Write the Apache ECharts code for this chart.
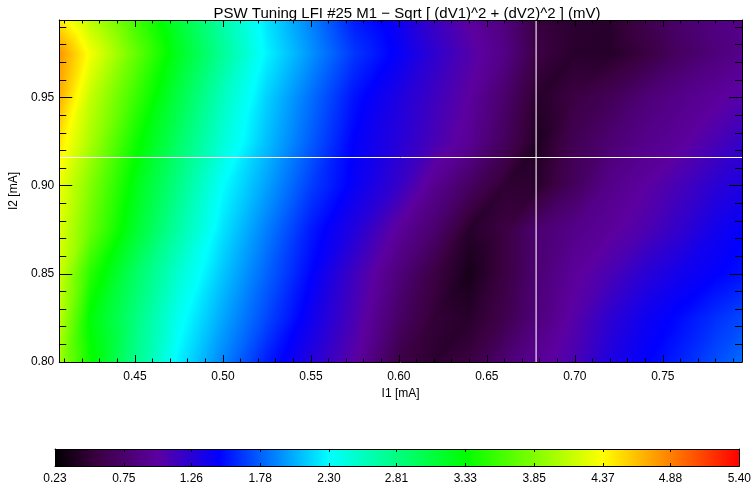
<!DOCTYPE html>
<html>
<head>
<meta charset="utf-8">
<script src="https://cdn.jsdelivr.net/npm/echarts@6/dist/echarts.min.js"></script>
<style>
  html, body { margin: 0; padding: 0; background: #ffffff; }
  #chart { width: 754px; height: 488px; }
</style>
</head>
<body>
<div id="chart"></div>
<script>
// Bias currents of the measurement grid (mA)
const I1_NODES = [0.407, 0.425, 0.45, 0.475, 0.50, 0.525, 0.55, 0.575, 0.60, 0.62, 0.64, 0.66, 0.68, 0.70, 0.72, 0.74, 0.76, 0.78, 0.795];
const I2_NODES = [0.800, 0.825, 0.850, 0.875, 0.900, 0.925, 0.950, 0.975, 0.994];

// Sqrt[(dV1)^2 + (dV2)^2] in mV, one row per I2 value, columns follow I1_NODES
const DV_I2_0800 = [3.98, 3.36, 2.78, 2.25, 1.90, 1.56, 1.30, 1.02, 0.58, 0.46, 0.55, 0.78, 0.96, 1.10, 1.32, 1.46, 1.58, 1.72, 1.82];
const DV_I2_0825 = [4.10, 3.30, 2.83, 2.35, 2.01, 1.70, 1.40, 1.10, 0.72, 0.50, 0.44, 0.60, 0.84, 1.04, 1.24, 1.40, 1.50, 1.62, 1.70];
const DV_I2_0850 = [4.17, 3.48, 2.94, 2.48, 2.11, 1.79, 1.48, 1.15, 0.82, 0.56, 0.36, 0.55, 0.80, 0.98, 1.10, 1.26, 1.38, 1.46, 1.52];
const DV_I2_0875 = [4.24, 3.75, 3.16, 2.66, 2.21, 1.88, 1.55, 1.30, 0.98, 0.76, 0.44, 0.55, 0.78, 0.90, 0.98, 1.08, 1.22, 1.38, 1.45];
const DV_I2_0900 = [4.30, 3.85, 3.26, 2.78, 2.30, 1.99, 1.67, 1.43, 1.20, 0.93, 0.70, 0.48, 0.46, 0.68, 0.90, 1.00, 1.12, 1.26, 1.32];
const DV_I2_0925 = [4.48, 4.01, 3.40, 2.92, 2.46, 2.09, 1.77, 1.46, 1.28, 1.11, 0.95, 0.68, 0.40, 0.64, 0.78, 0.90, 0.98, 1.10, 1.20];
const DV_I2_0950 = [4.69, 4.12, 3.57, 3.05, 2.56, 2.15, 1.83, 1.52, 1.32, 1.16, 1.00, 0.75, 0.44, 0.56, 0.65, 0.80, 0.90, 0.98, 1.05];
const DV_I2_0975 = [4.80, 4.32, 3.75, 3.20, 2.72, 2.26, 1.95, 1.64, 1.44, 1.24, 1.06, 0.88, 0.55, 0.45, 0.43, 0.54, 0.70, 0.82, 0.90];
const DV_I2_0994 = [4.45, 4.08, 3.60, 3.12, 2.65, 2.21, 1.89, 1.56, 1.40, 1.17, 1.00, 0.84, 0.52, 0.46, 0.45, 0.60, 0.76, 0.86, 0.90];
const DV_ROWS = [DV_I2_0800, DV_I2_0825, DV_I2_0850, DV_I2_0875, DV_I2_0900, DV_I2_0925, DV_I2_0950, DV_I2_0975, DV_I2_0994];

// Selected working point
const CROSS_I1 = 0.678;
const CROSS_I2 = 0.916;

// Axis ranges and tick labels
const I1_RANGE = [0.407, 0.795];
const I2_RANGE = [0.800, 0.994];
const I1_MAJOR = [0.45, 0.50, 0.55, 0.60, 0.65, 0.70, 0.75];
const I2_MAJOR = [0.80, 0.85, 0.90, 0.95];
const DV_RANGE = [0.23, 5.40];
const DV_TICKS = [0.23, 0.75, 1.26, 1.78, 2.30, 2.81, 3.33, 3.85, 4.37, 4.88, 5.40];

function minorTicks(lo, hi, step, majors) {
  const out = [];
  for (let k = Math.ceil(lo / step - 1e-9); k * step <= hi + 1e-9; k++) {
    const v = +(k * step).toFixed(4);
    if (!majors.some(m => Math.abs(m - v) < 1e-6)) out.push(v);
  }
  return out;
}
const I1_MINOR = minorTicks(I1_RANGE[0], I1_RANGE[1], 0.01, I1_MAJOR);
const I2_MINOR = minorTicks(I2_RANGE[0], I2_RANGE[1], 0.01, I2_MAJOR);

// Rainbow colour table: [fraction of the value range, rgb]
const CTABLE = [
  [0.00, [0, 0, 0]],
  [0.06, [58, 0, 64]],
  [0.15, [92, 0, 160]],
  [0.24, [0, 0, 255]],
  [0.40, [0, 255, 255]],
  [0.60, [0, 255, 0]],
  [0.80, [255, 255, 0]],
  [1.00, [255, 0, 0]]
];
const VMIN = DV_RANGE[0], VMAX = DV_RANGE[1];

function colorAt(v) {
  let t = (v - VMIN) / (VMAX - VMIN);
  t = Math.max(0, Math.min(1, t));
  for (let i = 1; i < CTABLE.length; i++) {
    const [t1, c1] = CTABLE[i];
    const [t0, c0] = CTABLE[i - 1];
    if (t <= t1) {
      const f = t1 === t0 ? 0 : (t - t0) / (t1 - t0);
      const c = c0.map((x, k) => Math.round(x + (c1[k] - x) * f));
      return 'rgb(' + c.join(',') + ')';
    }
  }
  return 'rgb(255,0,0)';
}

// Colour stops for a linear ramp between two values (exact at the table breakpoints)
function rampStops(v0, v1) {
  const stops = [{ offset: 0, color: colorAt(v0) }];
  CTABLE.forEach(([t]) => {
    const bv = VMIN + t * (VMAX - VMIN);
    if (bv > v0 && bv < v1) stops.push({ offset: (bv - v0) / (v1 - v0), color: colorAt(bv) });
  });
  stops.push({ offset: 1, color: colorAt(v1) });
  return stops;
}

const GROW = 1.2; // px each triangle edge is pushed outward, so neighbours overlap

// Gouraud-style fill of one triangle: the value is affine over it, so a linear
// gradient along the value gradient gives the interpolated colours. The ramp is
// extended beyond the corner values to cover the overlap strip.
function triangleFill(p, v) {
  const dx1 = p[1][0] - p[0][0], dy1 = p[1][1] - p[0][1];
  const dx2 = p[2][0] - p[0][0], dy2 = p[2][1] - p[0][1];
  const dv1 = v[1] - v[0], dv2 = v[2] - v[0];
  const det = dx1 * dy2 - dx2 * dy1;
  const vmin = Math.min(v[0], v[1], v[2]);
  const vmax = Math.max(v[0], v[1], v[2]);
  if (Math.abs(det) < 1e-9 || vmax - vmin < 1e-6) return colorAt((vmin + vmax) / 2);
  const ga = (dv1 * dy2 - dv2 * dy1) / det;
  const gb = (dx1 * dv2 - dx2 * dv1) / det;
  const g2 = ga * ga + gb * gb;
  const m = Math.sqrt(g2) * (GROW * 3 + 1);
  const lo = vmin - m, hi = vmax + m;
  const p0 = p[v.indexOf(vmin)];
  const s0 = -m / g2, s1 = (vmax - vmin + m) / g2;
  return new echarts.graphic.LinearGradient(
    p0[0] + ga * s0, p0[1] + gb * s0, p0[0] + ga * s1, p0[1] + gb * s1, rampStops(lo, hi), true);
}

// Offset every edge of a triangle outward by e pixels (mitred corners)
function grow(p, e) {
  const cx = (p[0][0] + p[1][0] + p[2][0]) / 3;
  const cy = (p[0][1] + p[1][1] + p[2][1]) / 3;
  const lines = [0, 1, 2].map(i => {
    const a = p[i], b = p[(i + 1) % 3];
    let nx = b[1] - a[1], ny = a[0] - b[0];
    const len = Math.sqrt(nx * nx + ny * ny) || 1;
    nx /= len; ny /= len;
    if ((a[0] - cx) * nx + (a[1] - cy) * ny < 0) { nx = -nx; ny = -ny; }
    return { x: a[0] + nx * e, y: a[1] + ny * e, dx: b[0] - a[0], dy: b[1] - a[1] };
  });
  return [0, 1, 2].map(i => {
    const L1 = lines[(i + 2) % 3], L2 = lines[i];
    const den = L1.dx * L2.dy - L1.dy * L2.dx;
    if (Math.abs(den) < 1e-9) return p[i];
    const t = ((L2.x - L1.x) * L2.dy - (L2.y - L1.y) * L2.dx) / den;
    return [L1.x + L1.dx * t, L1.y + L1.dy * t];
  });
}

// Split every grid cell into two triangles
const triangles = [];
for (let j = 0; j < I2_NODES.length - 1; j++) {
  for (let i = 0; i < I1_NODES.length - 1; i++) {
    const x0 = I1_NODES[i], x1 = I1_NODES[i + 1];
    const y0 = I2_NODES[j], y1 = I2_NODES[j + 1];
    const a = DV_ROWS[j][i], b = DV_ROWS[j][i + 1];
    const c = DV_ROWS[j + 1][i], d = DV_ROWS[j + 1][i + 1];
    triangles.push([x0, y0, x1, y0, x1, y1, a, b, d]);
    triangles.push([x0, y0, x1, y1, x0, y1, a, d, c]);
  }
}

const FONT = "'Liberation Sans', 'DejaVu Sans', sans-serif";
const BLACK = '#000000';

function frameAxis(extra) {
  return Object.assign({
    type: 'value',
    z: 10,
    axisLine: { show: true, onZero: false, lineStyle: { color: BLACK, width: 1 } },
    splitLine: { show: false },
    axisLabel: { show: false },
    axisTick: { show: true, inside: true, lineStyle: { color: BLACK, width: 1 } }
  }, extra);
}

function tickSet(len, values) {
  return { show: true, inside: true, length: len, customValues: values, lineStyle: { color: BLACK, width: 1 } };
}

const chart = echarts.init(document.getElementById('chart'), null, { renderer: 'canvas' });

chart.setOption({
  animation: false,
  backgroundColor: '#ffffff',
  title: {
    text: 'PSW Tuning LFI #25 M1 \u2212 Sqrt [ (dV1)^2 + (dV2)^2 ] (mV)',
    left: 402, top: 1, textAlign: 'center',
    textStyle: { fontFamily: FONT, fontSize: 15, fontWeight: 'normal', color: BLACK }
  },
  grid: [
    { left: 56, top: 20, width: 686, height: 342 },
    { left: 55, top: 449, width: 688, height: 17 }
  ],
  xAxis: [
    frameAxis({
      gridIndex: 0, position: 'bottom', min: I1_RANGE[0], max: I1_RANGE[1],
      name: 'I1 [mA]', nameLocation: 'middle', nameGap: 23,
      nameTextStyle: { fontFamily: FONT, fontSize: 12, color: BLACK },
      axisTick: tickSet(7, I1_MAJOR),
      axisLabel: { show: true, customValues: I1_MAJOR, margin: 9, fontFamily: FONT, fontSize: 12, color: BLACK,
        formatter: v => v.toFixed(2) }
    }),
    frameAxis({
      gridIndex: 0, position: 'bottom', min: I1_RANGE[0], max: I1_RANGE[1],
      axisLine: { show: false }, axisTick: tickSet(3.5, I1_MINOR)
    }),
    frameAxis({
      gridIndex: 0, position: 'top', min: I1_RANGE[0], max: I1_RANGE[1],
      axisTick: tickSet(7, I1_MAJOR)
    }),
    frameAxis({
      gridIndex: 0, position: 'top', min: I1_RANGE[0], max: I1_RANGE[1],
      axisLine: { show: false }, axisTick: tickSet(3.5, I1_MINOR)
    }),
    frameAxis({
      gridIndex: 1, position: 'bottom', min: DV_RANGE[0], max: DV_RANGE[1],
      axisTick: tickSet(3, DV_TICKS),
      axisLabel: { show: true, customValues: DV_TICKS, margin: 7, fontFamily: FONT, fontSize: 12, color: BLACK,
        formatter: v => v.toFixed(2) }
    }),
    frameAxis({
      gridIndex: 1, position: 'top', min: DV_RANGE[0], max: DV_RANGE[1],
      axisTick: tickSet(3, DV_TICKS)
    })
  ],
  yAxis: [
    frameAxis({
      gridIndex: 0, position: 'left', min: I2_RANGE[0], max: I2_RANGE[1],
      name: 'I2 [mA]', nameLocation: 'middle', nameGap: 28, nameRotate: 90,
      nameTextStyle: { fontFamily: FONT, fontSize: 12, color: BLACK },
      axisTick: tickSet(13, I2_MAJOR),
      axisLabel: { show: true, customValues: I2_MAJOR, margin: 5, fontFamily: FONT, fontSize: 12, color: BLACK,
        formatter: v => v.toFixed(2) }
    }),
    frameAxis({
      gridIndex: 0, position: 'left', min: I2_RANGE[0], max: I2_RANGE[1],
      axisLine: { show: false }, axisTick: tickSet(7, I2_MINOR)
    }),
    frameAxis({
      gridIndex: 0, position: 'right', min: I2_RANGE[0], max: I2_RANGE[1],
      axisTick: tickSet(13, I2_MAJOR)
    }),
    frameAxis({
      gridIndex: 0, position: 'right', min: I2_RANGE[0], max: I2_RANGE[1],
      axisLine: { show: false }, axisTick: tickSet(7, I2_MINOR)
    }),
    frameAxis({ gridIndex: 1, position: 'left', min: 0, max: 1, axisTick: { show: false } }),
    frameAxis({ gridIndex: 1, position: 'right', min: 0, max: 1, axisTick: { show: false } })
  ],
  series: [
    {
      name: 'dV map',
      type: 'custom',
      xAxisIndex: 0, yAxisIndex: 0,
      clip: true,
      silent: true,
      encode: { x: [0, 2, 4], y: [1, 3, 5] },
      data: triangles,
      renderItem: function (params, api) {
        const pts = [
          api.coord([api.value(0), api.value(1)]),
          api.coord([api.value(2), api.value(3)]),
          api.coord([api.value(4), api.value(5)])
        ];
        const vals = [api.value(6), api.value(7), api.value(8)];
        return {
          type: 'polygon',
          shape: { points: grow(pts, GROW) },
          style: { fill: triangleFill(pts, vals) }
        };
      }
    },
    {
      name: 'I1 setting',
      type: 'line',
      xAxisIndex: 0, yAxisIndex: 0,
      silent: true, symbol: 'none', z: 5,
      lineStyle: { color: '#ffffff', width: 1.5, opacity: 0.7 },
      data: [[CROSS_I1, I2_RANGE[0]], [CROSS_I1, I2_RANGE[1]]]
    },
    {
      name: 'I2 setting',
      type: 'line',
      xAxisIndex: 0, yAxisIndex: 0,
      silent: true, symbol: 'none', z: 5,
      lineStyle: { color: '#ffffff', width: 1, opacity: 1 },
      data: [[I1_RANGE[0], CROSS_I2], [I1_RANGE[1], CROSS_I2]]
    },
    {
      name: 'colour bar',
      type: 'custom',
      xAxisIndex: 4, yAxisIndex: 4,
      silent: true,
      encode: { x: [0, 1], y: [2, 3] },
      data: [[DV_RANGE[0], DV_RANGE[1], 0, 1]],
      renderItem: function (params, api) {
        const p0 = api.coord([api.value(0), api.value(2)]);
        const p1 = api.coord([api.value(1), api.value(3)]);
        const grad = new echarts.graphic.LinearGradient(p0[0], 0, p1[0], 0, rampStops(VMIN, VMAX), true);
        return {
          type: 'rect',
          shape: { x: p0[0], y: p1[1], width: p1[0] - p0[0], height: p0[1] - p1[1] },
          style: { fill: grad }
        };
      }
    }
  ]
});
</script>
</body>
</html>
